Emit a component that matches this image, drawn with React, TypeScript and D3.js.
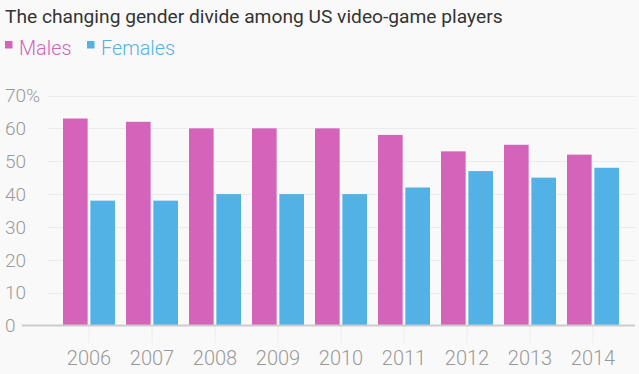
import React from "react";
import * as d3 from "d3";

const years = ["2006", "2007", "2008", "2009", "2010", "2011", "2012", "2013", "2014"];
const males = [63, 62, 60, 60, 60, 58, 53, 55, 52];
const females = [38, 38, 40, 40, 40, 42, 47, 45, 48];
const seriesNames = ["Males", "Females"];
const seriesColors = ["#d364b9", "#52b2e5"];
const yTicks = [0, 10, 20, 30, 40, 50, 60, 70];

const W = 639;
const H = 374;
const FONT = "Roboto, 'Open Sans', sans-serif";

export default function App() {
  const x = d3.scaleBand<string>().domain(years).range([57.5, 624.5]).paddingInner(0.175).paddingOuter(0.0875);
  const inner = d3.scaleBand<string>().domain(seriesNames).range([0, x.bandwidth()]).paddingInner(0.1);
  const y = d3.scaleLinear().domain([0, 70]).range([325.5, 95.5]);
  const data = [males, females];

  return (
    <svg width={W} height={H} style={{ position: "absolute", left: 0, top: 0, background: "#f9f9f9" }}>
      <rect x={0} y={0} width={W} height={H} fill="#f9f9f9" />
      <text x={5} y={23} fontFamily={FONT} fontSize={19.2} fill="#333">
        The changing gender divide among US video-game players
      </text>
      {seriesNames.map((s, i) => {
        const lx = i === 0 ? 5 : 87;
        return (
          <g key={s}>
            <rect x={lx} y={41} width={7.5} height={7.5} fill={seriesColors[i]} />
            <text x={lx + 14} y={55} fontFamily={FONT} fontSize={19.8} fontWeight={300} fill={seriesColors[i]}>
              {s}
            </text>
          </g>
        );
      })}
      {yTicks.filter((t) => t > 0).map((t) => (
        <line key={t} x1={48} x2={635} y1={Math.round(y(t)) + 0.5} y2={Math.round(y(t)) + 0.5} stroke="#ebebeb" strokeWidth={1} />
      ))}
      {yTicks.map((t) => (
        <text key={t} x={5} y={y(t)} dy="0.36em" fontFamily={FONT} fontSize={19} fontWeight={300} fill="#9a9a9a">
          {t === 70 ? "70%" : t}
        </text>
      ))}
      {years.map((yr) => {
        const cx = (x(yr) as number) + x.bandwidth() / 2;
        return (
          <g key={yr}>
            <line x1={cx} x2={cx} y1={326} y2={343} stroke="#ececec" strokeWidth={1} />
            <text x={cx} y={365} textAnchor="middle" fontFamily={FONT} fontSize={20} fontWeight={300} fill="#999">
              {yr}
            </text>
          </g>
        );
      })}
      {years.map((yr, j) => (
        <g key={yr} transform={`translate(${x(yr)},0)`}>
          {seriesNames.map((s, i) => (
            <rect
              key={s}
              x={inner(s)}
              y={y(data[i][j])}
              width={inner.bandwidth()}
              height={y(0) - y(data[i][j])}
              fill={seriesColors[i]}
            />
          ))}
        </g>
      ))}
      <line x1={22} x2={635} y1={325.5} y2={325.5} stroke="#cccccc" strokeWidth={2} />
    </svg>
  );
}
